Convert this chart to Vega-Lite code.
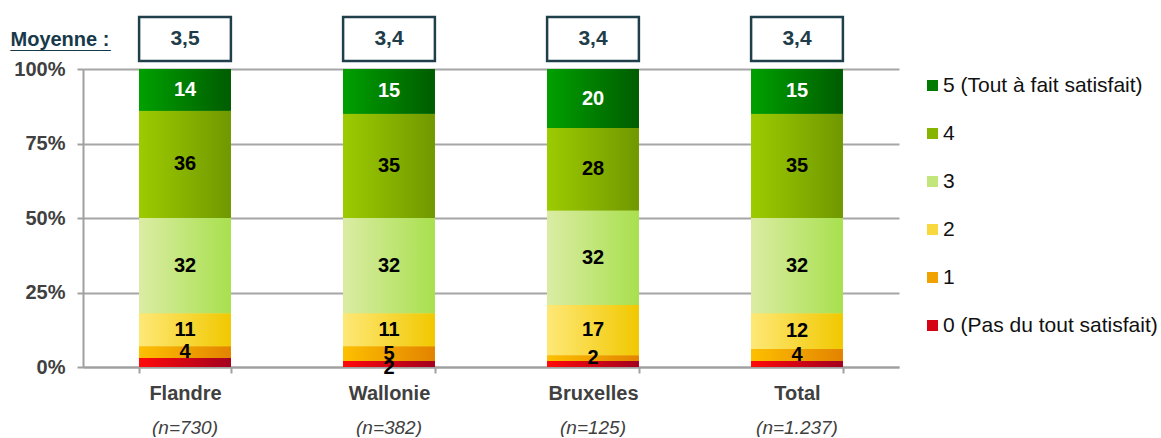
{
  "$schema": "https://vega.github.io/schema/vega-lite/v6.json",
  "padding": {"left": 10, "top": 15, "right": 0, "bottom": 0},
  "background": "white",
  "bounds": "flush",
  "spacing": 8,
  "config": {"view": {"stroke": null}, "font": "Liberation Sans"},
  "datasets": {
    "shares": [
      {"region": "Flandre", "score": 0, "cat": "0 (Pas du tout satisfait)", "value": 3, "label": ""},
      {"region": "Flandre", "score": 1, "cat": "1", "value": 4, "label": "4"},
      {"region": "Flandre", "score": 2, "cat": "2", "value": 11, "label": "11"},
      {"region": "Flandre", "score": 3, "cat": "3", "value": 32, "label": "32"},
      {"region": "Flandre", "score": 4, "cat": "4", "value": 36, "label": "36"},
      {"region": "Flandre", "score": 5, "cat": "5 (Tout à fait satisfait)", "value": 14, "label": "14"},
      {"region": "Wallonie", "score": 0, "cat": "0 (Pas du tout satisfait)", "value": 2, "label": "2"},
      {"region": "Wallonie", "score": 1, "cat": "1", "value": 5, "label": "5"},
      {"region": "Wallonie", "score": 2, "cat": "2", "value": 11, "label": "11"},
      {"region": "Wallonie", "score": 3, "cat": "3", "value": 32, "label": "32"},
      {"region": "Wallonie", "score": 4, "cat": "4", "value": 35, "label": "35"},
      {"region": "Wallonie", "score": 5, "cat": "5 (Tout à fait satisfait)", "value": 15, "label": "15"},
      {"region": "Bruxelles", "score": 0, "cat": "0 (Pas du tout satisfait)", "value": 2, "label": ""},
      {"region": "Bruxelles", "score": 1, "cat": "1", "value": 2, "label": "2"},
      {"region": "Bruxelles", "score": 2, "cat": "2", "value": 17, "label": "17"},
      {"region": "Bruxelles", "score": 3, "cat": "3", "value": 32, "label": "32"},
      {"region": "Bruxelles", "score": 4, "cat": "4", "value": 28, "label": "28"},
      {"region": "Bruxelles", "score": 5, "cat": "5 (Tout à fait satisfait)", "value": 20, "label": "20"},
      {"region": "Total", "score": 0, "cat": "0 (Pas du tout satisfait)", "value": 2, "label": ""},
      {"region": "Total", "score": 1, "cat": "1", "value": 4, "label": "4"},
      {"region": "Total", "score": 2, "cat": "2", "value": 12, "label": "12"},
      {"region": "Total", "score": 3, "cat": "3", "value": 32, "label": "32"},
      {"region": "Total", "score": 4, "cat": "4", "value": 35, "label": "35"},
      {"region": "Total", "score": 5, "cat": "5 (Tout à fait satisfait)", "value": 15, "label": "15"}
    ],
    "means": [
      {"region": "Flandre", "row": "Moyenne :", "mean": "3,5"},
      {"region": "Wallonie", "row": "Moyenne :", "mean": "3,4"},
      {"region": "Bruxelles", "row": "Moyenne :", "mean": "3,4"},
      {"region": "Total", "row": "Moyenne :", "mean": "3,4"}
    ]
  },
  "vconcat": [
    {
      "width": 816,
      "height": 44,
      "data": {"name": "means"},
      "encoding": {
        "x": {"field": "region", "type": "nominal", "sort": ["Flandre", "Wallonie", "Bruxelles", "Total"], "scale": {"paddingInner": 0.55, "paddingOuter": 0.275}, "axis": null},
        "y": {"field": "row", "type": "nominal", "scale": {"paddingInner": 0, "paddingOuter": 0},
          "axis": {"title": null, "domain": false, "ticks": false, "tickSize": 0, "labelAlign": "left", "labelPadding": 73, "labelFontSize": 20, "labelFontWeight": "bold", "labelColor": "#17394a", "labelLineHeight": 2, "labelOffset": 1, "labelExpr": "[datum.label, '_________']"}}
      },
      "layer": [
        {"mark": {"type": "rect", "fill": "white", "stroke": "#1f3f4a", "strokeWidth": 2.5}},
        {"mark": {"type": "text", "fontSize": 21, "fontWeight": "bold", "color": "#1e3d49"}, "encoding": {"text": {"field": "mean"}}}
      ]
    },
    {
      "width": 816,
      "height": 298,
      "data": {"name": "shares"},
      "encoding": {
        "x": {"field": "region", "type": "nominal", "sort": ["Flandre", "Wallonie", "Bruxelles", "Total"], "scale": {"paddingInner": 0.55, "paddingOuter": 0.275},
          "axis": {"title": null, "orient": "bottom", "labelAngle": 0, "domainColor": "#a0a0a0", "domainWidth": 2, "tickColor": "#a0a0a0", "tickWidth": 2, "tickSize": 6, "tickBand": "extent", "labelFont": "Liberation Sans", "labelFontSize": 20, "labelFontWeight": "bold", "labelColor": "#404040", "labelPadding": 10}},
        "y": {"field": "value", "type": "quantitative", "stack": "normalize",
          "axis": {"title": null, "values": [0, 0.25, 0.5, 0.75, 1], "format": ".0%", "grid": true, "gridColor": "#a6a6a6", "gridWidth": 2, "domainColor": "#a0a0a0", "domainWidth": 2, "tickColor": "#a0a0a0", "tickWidth": 2, "tickSize": 6, "labelPadding": 12, "labelFontSize": 20, "labelFontWeight": "bold", "labelColor": "#404040"}},
        "order": {"field": "score", "type": "quantitative", "sort": "ascending"}
      },
      "layer": [
        {
          "mark": {"type": "bar"},
          "encoding": {
            "color": {"field": "cat", "type": "nominal",
              "scale": {"domain": ["5 (Tout à fait satisfait)", "4", "3", "2", "1", "0 (Pas du tout satisfait)"], "range": ["#007a00", "#86b400", "#c2e67c", "#f8d83c", "#f0a200", "#d40414"]},
              "legend": {"title": null, "orient": "none", "legendX": 839, "legendY": 58, "symbolType": "square", "symbolSize": 121, "symbolStrokeWidth": 0, "labelFontSize": 21, "labelColor": "#111111", "labelFont": "Liberation Sans", "labelLimit": 400, "rowPadding": 26, "labelOffset": 0, "padding": 0}}
          }
        },
        {
          "mark": {"type": "bar"},
          "encoding": {
            "x": {"field": "region", "type": "nominal", "sort": ["Flandre", "Wallonie", "Bruxelles", "Total"], "axis": null},
            "detail": {"field": "cat"},
            "fill": {
              "condition": [
                {"test": "datum.score === 5", "value": {"gradient": "linear", "x1": 0, "y1": 0, "x2": 1, "y2": 0, "stops": [{"offset": 0, "color": "#00a000"}, {"offset": 1, "color": "#005c00"}]}},
                {"test": "datum.score === 4", "value": {"gradient": "linear", "x1": 0, "y1": 0, "x2": 1, "y2": 0, "stops": [{"offset": 0, "color": "#9dcb00"}, {"offset": 1, "color": "#709800"}]}},
                {"test": "datum.score === 3", "value": {"gradient": "linear", "x1": 0, "y1": 0, "x2": 1, "y2": 0, "stops": [{"offset": 0, "color": "#dbeca4"}, {"offset": 1, "color": "#a8e04e"}]}},
                {"test": "datum.score === 2", "value": {"gradient": "linear", "x1": 0, "y1": 0, "x2": 1, "y2": 0, "stops": [{"offset": 0, "color": "#fee877"}, {"offset": 1, "color": "#f1c800"}]}},
                {"test": "datum.score === 1", "value": {"gradient": "linear", "x1": 0, "y1": 0, "x2": 1, "y2": 0, "stops": [{"offset": 0, "color": "#fdc000"}, {"offset": 1, "color": "#e38300"}]}}
              ],
              "value": {"gradient": "linear", "x1": 0, "y1": 0, "x2": 1, "y2": 0, "stops": [{"offset": 0, "color": "#ff0a0a"}, {"offset": 1, "color": "#a3001f"}]}
            }
          }
        },
        {
          "mark": {"type": "text", "fontSize": 20, "fontWeight": "bold"},
          "encoding": {
            "x": {"field": "region", "type": "nominal", "sort": ["Flandre", "Wallonie", "Bruxelles", "Total"],
              "axis": {"title": null, "orient": "bottom", "domain": false, "ticks": false, "tickSize": 0, "grid": false, "labelAngle": 0, "labelPadding": 51, "labelFont": "Liberation Sans", "labelFontSize": 19, "labelFontStyle": "italic", "labelFontWeight": "normal", "labelColor": "#404040",
                "labelExpr": "datum.value === 'Flandre' ? '(n=730)' : datum.value === 'Wallonie' ? '(n=382)' : datum.value === 'Bruxelles' ? '(n=125)' : '(n=1.237)'"}},
            "y": {"field": "value", "type": "quantitative", "stack": "normalize", "bandPosition": 0.5},
            "detail": {"field": "cat"},
            "text": {"condition": {"test": "datum.score > 0", "field": "label"}, "value": ""},
            "color": {"condition": {"test": "datum.score === 5", "value": "white"}, "value": "black"}
          }
        },
        {
          "mark": {"type": "text", "fontSize": 20, "fontWeight": "bold", "dy": 4},
          "encoding": {
            "x": {"field": "region", "type": "nominal", "sort": ["Flandre", "Wallonie", "Bruxelles", "Total"], "axis": null},
            "y": {"field": "value", "type": "quantitative", "stack": "normalize", "bandPosition": 0.5},
            "detail": {"field": "cat"},
            "text": {"condition": {"test": "datum.score === 0", "field": "label"}, "value": ""},
            "color": {"value": "black"}
          }
        }
      ],
      "resolve": {"axis": {"x": "independent"}}
    }
  ]
}
